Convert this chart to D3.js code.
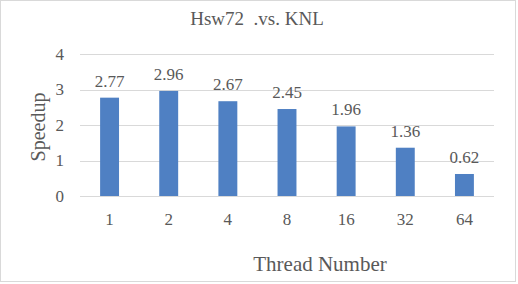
<!DOCTYPE html>
<html>
<head>
<meta charset="utf-8">
<script src="https://cdn.jsdelivr.net/npm/d3@7"></script>
<style>
  body { margin: 0; background: #fff; }
  text { font-family: "Liberation Serif", "DejaVu Serif", serif; fill: #595959; }
</style>
</head>
<body>
<div id="chart_area"></div>
<script>
var threads = ["1", "2", "4", "8", "16", "32", "64"];
var speedup = [2.77, 2.96, 2.67, 2.45, 1.96, 1.36, 0.62];
var yTicks = [0, 1, 2, 3, 4];

var width = 518, height = 284;
var plot = { left: 80, right: 494, top: 54, bottom: 196 };

var svg = d3.select("#chart_area")
    .append("svg")
    .attr("width", width)
    .attr("height", height);

svg.append("rect")
    .attr("x", 0.5).attr("y", 0.5)
    .attr("width", width - 3).attr("height", height - 3)
    .attr("fill", "#fff")
    .attr("stroke", "#d9d9d9");

var x = d3.scaleBand()
    .domain(threads)
    .range([plot.left, plot.right])
    .paddingInner(0.68)
    .paddingOuter(0.34);

var y = d3.scaleLinear()
    .domain([0, 4])
    .range([plot.bottom, plot.top]);

// gridlines
svg.append("g")
    .selectAll("line")
    .data(yTicks)
    .enter()
    .append("line")
    .attr("x1", plot.left).attr("x2", plot.right)
    .attr("y1", function (d) { return Math.round(y(d)) + 0.5; })
    .attr("y2", function (d) { return Math.round(y(d)) + 0.5; })
    .attr("stroke", "#d9d9d9")
    .attr("stroke-width", 1);

// y tick labels
svg.append("g")
    .selectAll("text")
    .data(yTicks)
    .enter()
    .append("text")
    .attr("x", 64)
    .attr("y", function (d) { return y(d); })
    .attr("dy", "0.35em")
    .attr("text-anchor", "end")
    .attr("font-size", 17)
    .text(function (d) { return d; });

// bars
svg.append("g")
    .selectAll("rect")
    .data(speedup)
    .enter()
    .append("rect")
    .attr("x", function (d, i) { return x(threads[i]); })
    .attr("y", function (d) { return y(d); })
    .attr("width", x.bandwidth())
    .attr("height", function (d) { return y(0) - y(d); })
    .attr("fill", "#4f80c3");

// value labels
svg.append("g")
    .selectAll("text")
    .data(speedup)
    .enter()
    .append("text")
    .attr("x", function (d, i) { return x(threads[i]) + x.bandwidth() / 2; })
    .attr("y", function (d) { return y(d) - 11; })
    .attr("text-anchor", "middle")
    .attr("font-size", 17)
    .text(function (d) { return d.toFixed(2); });

// x tick labels
svg.append("g")
    .selectAll("text")
    .data(threads)
    .enter()
    .append("text")
    .attr("x", function (d) { return x(d) + x.bandwidth() / 2; })
    .attr("y", 225)
    .attr("text-anchor", "middle")
    .attr("font-size", 17)
    .text(function (d) { return d; });

// title
svg.append("text")
    .attr("x", 257)
    .attr("y", 25)
    .attr("text-anchor", "middle")
    .attr("font-size", 19)
    .style("white-space", "pre")
    .text("Hsw72  .vs. KNL");

// axis titles
svg.append("text")
    .attr("x", 320)
    .attr("y", 271)
    .attr("text-anchor", "middle")
    .attr("font-size", 21)
    .text("Thread Number");

svg.append("text")
    .attr("transform", "translate(45,127) rotate(-90)")
    .attr("text-anchor", "middle")
    .attr("font-size", 20)
    .text("Speedup");
</script>
</body>
</html>
